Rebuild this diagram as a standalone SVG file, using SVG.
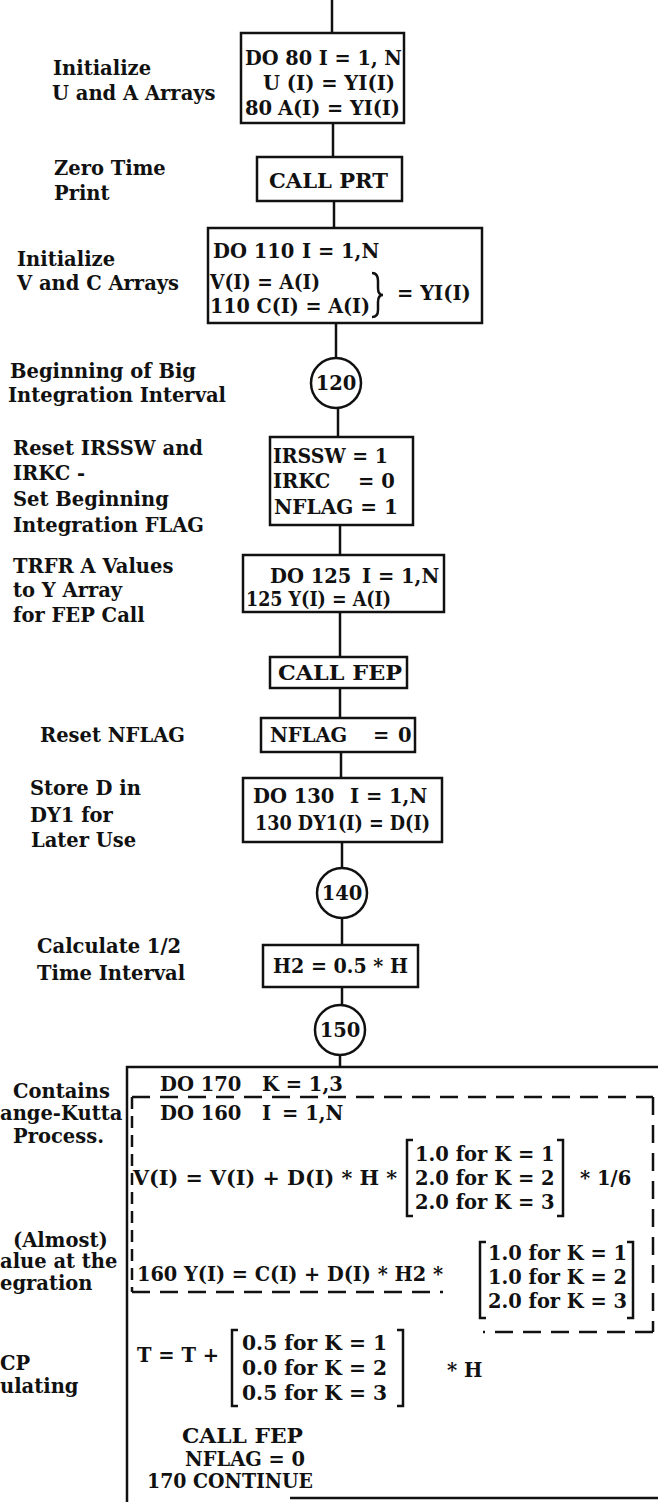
<svg xmlns="http://www.w3.org/2000/svg" width="658" height="1502" viewBox="0 0 658 1502">
<style>
.t{font-family:"DejaVu Serif","Liberation Serif",serif;font-weight:bold;font-size:19.5px;fill:#111}
.c{text-anchor:middle}
.b{fill:none;stroke:#111;stroke-width:2.5}
.d{fill:none;stroke:#111;stroke-width:2.5;stroke-dasharray:18 10}
.dv{fill:none;stroke:#111;stroke-width:2.5;stroke-dasharray:12 7}
.br{fill:none;stroke:#111;stroke-width:2.5}
</style>
<rect width="658" height="1502" fill="#fff"/>
<g id="connectors" class="b">
<line x1="332" y1="0" x2="332" y2="33"/>
<line x1="333" y1="123" x2="333" y2="157"/>
<line x1="334" y1="201" x2="334" y2="228"/>
<line x1="336" y1="323" x2="336" y2="358"/>
<line x1="338" y1="408" x2="338" y2="437"/>
<line x1="340" y1="525" x2="340" y2="555"/>
<line x1="340" y1="612" x2="340" y2="657"/>
<line x1="340" y1="688" x2="340" y2="718"/>
<line x1="341" y1="752" x2="341" y2="778"/>
<line x1="342" y1="842" x2="342" y2="868"/>
<line x1="342" y1="918" x2="342" y2="945"/>
<line x1="342" y1="987" x2="342" y2="1005"/>
<line x1="340" y1="1055" x2="340" y2="1067"/>
</g>
<g id="labels" class="t">
<text x="53" y="75">Initialize</text>
<text x="52" y="100">U and A Arrays</text>
<text x="54" y="175">Zero Time</text>
<text x="54" y="200">Print</text>
<text x="17" y="266">Initialize</text>
<text x="17" y="290">V and C Arrays</text>
<text x="10" y="378">Beginning of Big</text>
<text x="8" y="402">Integration Interval</text>
<text x="13" y="455">Reset IRSSW and</text>
<text x="13" y="480">IRKC -</text>
<text x="13" y="506">Set Beginning</text>
<text x="13" y="532">Integration FLAG</text>
<text x="13" y="573">TRFR A Values</text>
<text x="13" y="597">to Y Array</text>
<text x="13" y="622">for FEP Call</text>
<text x="40" y="742">Reset NFLAG</text>
<text x="30" y="795">Store D in</text>
<text x="30" y="822">DY1 for</text>
<text x="31" y="847">Later Use</text>
<text x="37" y="953">Calculate 1/2</text>
<text x="37" y="980">Time Interval</text>
<text x="13" y="1098">Contains</text>
<text x="0" y="1120">ange-Kutta</text>
<text x="13" y="1143">Process.</text>
<text x="13" y="1247">(Almost)</text>
<text x="0" y="1268">alue at the</text>
<text x="0" y="1290">egration</text>
<text x="0" y="1370">CP</text>
<text x="0" y="1393">ulating</text>
</g>
<g id="n80">
<rect class="b" x="241" y="33" width="163" height="90"/>
<text class="t" x="245" y="65" textLength="157" lengthAdjust="spacingAndGlyphs">DO 80 I = 1, N</text>
<text class="t" x="263" y="90" textLength="132" lengthAdjust="spacingAndGlyphs">U (I) = YI(I)</text>
<text class="t" x="245" y="115">80</text>
<text class="t" x="278" y="115" textLength="122" lengthAdjust="spacingAndGlyphs">A(I) = YI(I)</text>
</g>
<g id="prt">
<rect class="b" x="257" y="157" width="145" height="44"/>
<text class="t" x="269" y="188" textLength="119" lengthAdjust="spacingAndGlyphs">CALL PRT</text>
</g>
<g id="n110">
<rect class="b" x="208" y="228" width="274" height="95"/>
<text class="t" x="213" y="258">DO 110<tspan x="302">I = 1,N</tspan></text>
<text class="t" x="210" y="289" textLength="110" lengthAdjust="spacingAndGlyphs">V(I) = A(I)</text>
<text class="t" x="210" y="313" textLength="160" lengthAdjust="spacingAndGlyphs">110 C(I) = A(I)</text>
<path class="br" d="M372,273 Q378,273 378,281 L378,288 Q378,295 383,295 Q378,295 378,302 L378,310 Q378,317 372,317"/>
<text class="t" x="397" y="300">= YI(I)</text>
</g>
<g id="c120">
<circle class="b" cx="336" cy="383" r="25"/>
<text class="t c" x="336" y="390">120</text>
</g>
<g id="irssw">
<rect class="b" x="270" y="437" width="143" height="88"/>
<text class="t" x="273" y="463" textLength="115" lengthAdjust="spacingAndGlyphs">IRSSW = 1</text>
<text class="t" x="273" y="488">IRKC<tspan x="358">= 0</tspan></text>
<text class="t" x="274" y="514" textLength="124" lengthAdjust="spacingAndGlyphs">NFLAG = 1</text>
</g>
<g id="n125">
<rect class="b" x="243" y="555" width="201" height="57"/>
<text class="t" x="270" y="583">DO 125<tspan x="362">I = 1,N</tspan></text>
<text class="t" x="246" y="606" textLength="145" lengthAdjust="spacingAndGlyphs">125 Y(I) = A(I)</text>
</g>
<g id="fep1">
<rect class="b" x="270" y="657" width="137" height="31"/>
<text class="t" x="278" y="680" textLength="124" lengthAdjust="spacingAndGlyphs">CALL FEP</text>
</g>
<g id="nflag0">
<rect class="b" x="261" y="718" width="154" height="34"/>
<text class="t" x="270" y="742">NFLAG<tspan x="373">=</tspan><tspan x="398">0</tspan></text>
</g>
<g id="n130">
<rect class="b" x="243" y="778" width="199" height="64"/>
<text class="t" x="253" y="803">DO 130<tspan x="350">I = 1,N</tspan></text>
<text class="t" x="255" y="830" textLength="175" lengthAdjust="spacingAndGlyphs">130 DY1(I) = D(I)</text>
</g>
<g id="c140">
<circle class="b" cx="342" cy="893" r="25"/>
<text class="t c" x="342" y="900">140</text>
</g>
<g id="h2">
<rect class="b" x="263" y="945" width="155" height="42"/>
<text class="t" x="273" y="973" textLength="135" lengthAdjust="spacingAndGlyphs">H2 = 0.5 * H</text>
</g>
<g id="c150">
<circle class="b" cx="340" cy="1030" r="25"/>
<text class="t c" x="340" y="1037">150</text>
</g>
<g id="rk">
<path class="b" d="M127,1502 L127,1067 L658,1067"/>
<line class="b" x1="290" y1="1498" x2="658" y2="1498"/>
<line class="d" x1="132" y1="1097" x2="653" y2="1097"/>
<line class="dv" x1="132" y1="1097" x2="132" y2="1292"/>
<line class="d" x1="132" y1="1292" x2="443" y2="1292"/>
<line class="d" x1="653" y1="1097" x2="653" y2="1332"/>
<line class="d" x1="653" y1="1332" x2="483" y2="1332"/>
<text class="t" x="160" y="1091">DO 170<tspan x="262">K = 1,3</tspan></text>
<text class="t" x="160" y="1120">DO 160<tspan x="262">I</tspan><tspan x="282">= 1,N</tspan></text>
<text class="t" x="133" y="1185" textLength="264" lengthAdjust="spacingAndGlyphs">V(I) = V(I) + D(I) * H *</text>
<path class="br" d="M413,1140 L407,1140 L407,1216 L413,1216"/>
<path class="br" d="M557,1140 L563,1140 L563,1216 L557,1216"/>
<text class="t" x="415" y="1161">1.0 for K = 1</text>
<text class="t" x="415" y="1185">2.0 for K = 2</text>
<text class="t" x="415" y="1209">2.0 for K = 3</text>
<text class="t" x="580" y="1185">* 1/6</text>
<text class="t" x="137" y="1281" textLength="306" lengthAdjust="spacingAndGlyphs">160 Y(I) = C(I) + D(I) * H2 *</text>
<path class="br" d="M486,1242 L480,1242 L480,1318 L486,1318"/>
<path class="br" d="M627,1242 L633,1242 L633,1318 L627,1318"/>
<text class="t" x="488" y="1260" textLength="139" lengthAdjust="spacingAndGlyphs">1.0 for K = 1</text>
<text class="t" x="488" y="1284" textLength="139" lengthAdjust="spacingAndGlyphs">1.0 for K = 2</text>
<text class="t" x="488" y="1308" textLength="139" lengthAdjust="spacingAndGlyphs">2.0 for K = 3</text>
<text class="t" x="137" y="1362">T = T +</text>
<path class="br" d="M238,1330 L232,1330 L232,1406 L238,1406"/>
<path class="br" d="M397,1330 L403,1330 L403,1406 L397,1406"/>
<text class="t" x="242" y="1350" textLength="145" lengthAdjust="spacingAndGlyphs">0.5 for K = 1</text>
<text class="t" x="242" y="1375" textLength="145" lengthAdjust="spacingAndGlyphs">0.0 for K = 2</text>
<text class="t" x="242" y="1400" textLength="145" lengthAdjust="spacingAndGlyphs">0.5 for K = 3</text>
<text class="t" x="447" y="1377">* H</text>
<text class="t" x="182" y="1443" textLength="121" lengthAdjust="spacingAndGlyphs">CALL FEP</text>
<text class="t" x="185" y="1466" textLength="120" lengthAdjust="spacingAndGlyphs">NFLAG = 0</text>
<text class="t" x="147" y="1488" textLength="166" lengthAdjust="spacingAndGlyphs">170 CONTINUE</text>
</g>
</svg>
